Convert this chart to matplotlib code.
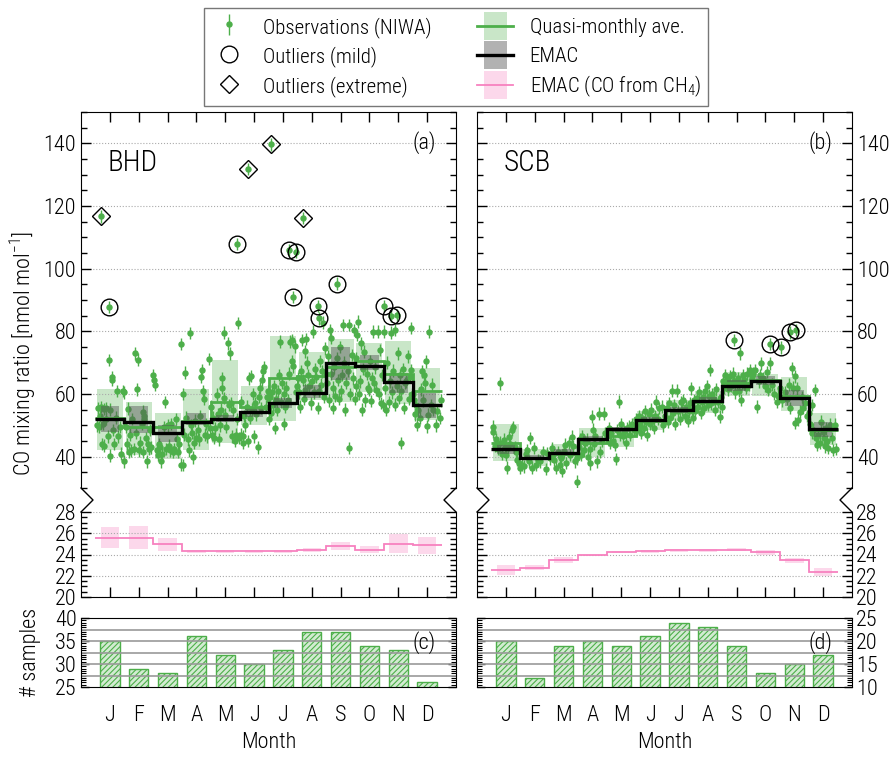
import numpy as np
import matplotlib
matplotlib.use("Agg")
import matplotlib.pyplot as plt
from matplotlib.lines import Line2D
from matplotlib.patches import Rectangle
from matplotlib.legend_handler import HandlerBase
from matplotlib.ticker import MultipleLocator, NullLocator

plt.rcParams['font.family'] = ['Roboto Condensed', 'Roboto', 'DejaVu Sans']
plt.rcParams['font.weight'] = 'light'
plt.rcParams['axes.labelweight'] = 'light'
plt.rcParams['mathtext.fontset'] = 'custom'
plt.rcParams['mathtext.rm'] = 'Roboto Condensed:light'
plt.rcParams['hatch.linewidth'] = 0.8

GREEN = '#4daf4a'
PINK = '#f781bf'

months = ['J', 'F', 'M', 'A', 'M', 'J', 'J', 'A', 'S', 'O', 'N', 'D']
mon = np.arange(1, 13)
obs_err = 2.0

# ---------------- BHD ----------------
bhd_x = [0.55, 0.58, 0.62, 0.66, 0.70, 0.72, 0.75, 0.78, 0.80, 0.85, 0.88, 0.92, 0.96, 1.00, 1.02, 1.06, 1.08, 1.12,
         1.15, 1.20, 1.24, 1.28, 1.35, 1.40, 1.46, 1.48, 1.50,
         1.55, 1.58, 1.62, 1.66, 1.70, 1.74, 1.78, 1.82, 1.87, 1.90, 1.94, 1.96, 2.00, 2.05, 2.10, 2.14, 2.16, 2.18,
         2.20, 2.24, 2.28, 2.32, 2.36, 2.40, 2.44, 2.48,
         2.54, 2.58, 2.62, 2.66, 2.70, 2.74, 2.78, 2.82, 2.86, 2.91, 2.95, 3.00, 3.05, 3.10, 3.12, 3.18, 3.22, 3.28,
         3.32, 3.36, 3.40, 3.45, 3.48,
         3.52, 3.55, 3.58, 3.62, 3.65, 3.70, 3.74, 3.77, 3.80, 3.84, 3.88, 3.92, 3.96, 4.00, 4.04, 4.08, 4.12, 4.16,
         4.18, 4.22, 4.26, 4.30, 4.34, 4.38, 4.43, 4.47,
         4.52, 4.55, 4.58, 4.62, 4.66, 4.70, 4.74, 4.78, 4.82, 4.86, 4.88, 4.90, 4.94, 4.97, 5.00, 5.04, 5.08, 5.12,
         5.16, 5.20, 5.24, 5.28, 5.33, 5.38, 5.42, 5.45, 5.48,
         5.53, 5.56, 5.60, 5.63, 5.66, 5.70, 5.74, 5.78, 5.82, 5.86, 5.89, 5.92, 5.96, 6.00, 6.04, 6.08, 6.12, 6.16,
         6.21, 6.25, 6.28, 6.32, 6.36, 6.40, 6.44, 6.48,
         6.53, 6.56, 6.60, 6.63, 6.67, 6.70, 6.72, 6.76, 6.80, 6.84, 6.88, 6.90, 6.94, 6.98, 7.02, 7.05, 7.08, 7.12,
         7.16, 7.20, 7.25, 7.30, 7.33, 7.36, 7.41, 7.45, 7.48,
         7.52, 7.55, 7.58, 7.62, 7.65, 7.68, 7.72, 7.75, 7.78, 7.80, 7.84, 7.88, 7.92, 7.96, 8.00, 8.05, 8.08, 8.12,
         8.16, 8.20, 8.24, 8.28, 8.32, 8.35, 8.38, 8.42, 8.45, 8.48,
         8.52, 8.55, 8.58, 8.62, 8.65, 8.68, 8.72, 8.75, 8.78, 8.82, 8.86, 8.90, 8.94, 8.98, 9.02, 9.06, 9.09, 9.12,
         9.16, 9.20, 9.24, 9.29, 9.30, 9.34, 9.38, 9.42, 9.46, 9.49,
         9.52, 9.55, 9.58, 9.62, 9.65, 9.68, 9.72, 9.75, 9.78, 9.82, 9.86, 9.90, 9.94, 9.99, 10.02, 10.06, 10.10,
         10.12, 10.16, 10.20, 10.24, 10.28, 10.32, 10.36, 10.41, 10.44, 10.48,
         10.52, 10.55, 10.58, 10.62, 10.66, 10.70, 10.75, 10.78, 10.82, 10.87, 10.90, 10.94, 10.99, 11.02, 11.05,
         11.08, 11.11, 11.15, 11.19, 11.22, 11.28, 11.33, 11.36, 11.40, 11.43, 11.45, 11.48,
         11.52, 11.55, 11.58, 11.62, 11.66, 11.70, 11.75, 11.80, 11.83, 11.86, 11.89, 11.92, 11.96, 12.00, 12.04,
         12.07, 12.12, 12.16, 12.20, 12.30, 12.35, 12.43, 12.47]
bhd_y = [50.0, 55.5, 49.5, 53.0, 55.8, 44.0, 50.5, 55.2, 43.5, 52.0, 55.5, 46.5, 70.9, 40.3, 55.0, 65.5, 64.5, 48.5,
         44.0, 52.5, 61.0, 46.5, 49.5, 41.0, 61.0, 38.5, 60.5,
         49.5, 44.0, 55.3, 41.5, 47.0, 42.0, 52.0, 42.5, 73.0, 47.5, 61.5, 71.0, 42.0, 44.5, 50.5, 54.4, 41.5, 53.0,
         52.0, 46.0, 38.5, 44.0, 42.5, 48.5, 43.0, 66.0,
         64.5, 63.0, 42.0, 40.5, 44.0, 43.0, 38.5, 41.0, 49.5, 57.5, 42.5, 50.0, 43.5, 42.0, 50.5, 41.5, 42.5, 52.0,
         45.5, 41.5, 44.0, 37.5, 76.0,
         37.3, 60.0, 47.0, 66.8, 52.5, 45.5, 42.0, 79.4, 50.0, 47.5, 39.8, 44.5, 51.5, 46.0, 48.5, 45.5, 53.0, 65.5,
         67.7, 61.0, 58.5, 47.0, 50.5, 46.5, 71.1, 49.0,
         56.0, 47.0, 52.5, 46.0, 49.0, 59.8, 53.5, 45.5, 50.0, 55.0, 65.1, 61.9, 58.7, 79.6, 53.4, 49.5, 76.2, 56.5,
         73.0, 57.0, 46.5, 55.0, 45.0, 47.0, 52.0, 82.6, 46.0,
         57.5, 47.0, 44.5, 46.5, 53.0, 50.0, 56.0, 45.0, 65.0, 52.5, 65.8, 55.0, 60.0, 46.5, 57.0, 53.5, 43.0, 59.0,
         61.9, 55.5, 64.5, 67.2, 68.6, 56.0, 59.0, 61.0,
         52.0, 59.2, 54.0, 60.5, 56.5, 62.5, 49.1, 58.5, 55.0, 61.0, 66.0, 76.7, 57.5, 63.5, 60.0, 50.4, 56.0, 62.0,
         58.0, 66.5, 76.7, 70.4, 77.3, 68.8, 75.2, 60.5, 62.5,
         65.0, 60.5, 56.0, 67.2, 77.3, 64.5, 58.5, 73.6, 61.4, 77.5, 70.0, 66.0, 62.5, 57.0, 64.0, 79.9, 60.5, 68.0,
         65.5, 55.5, 61.0, 70.5, 63.0, 67.2, 82.8, 59.0, 74.6, 66.5,
         63.5, 72.0, 58.0, 80.4, 66.5, 77.8, 55.5, 62.0, 68.5, 59.5, 71.5, 64.5, 58.5, 75.0, 61.0, 66.0, 82.0, 70.0,
         55.0, 63.5, 67.5, 42.7, 82.0, 60.0, 72.5, 65.0, 80.4, 58.5,
         62.5, 71.5, 78.9, 83.1, 60.0, 64.0, 76.2, 55.0, 68.0, 73.5, 58.0, 66.5, 62.0, 61.4, 70.5, 57.7, 65.0, 79.9,
         63.5, 68.5, 61.4, 79.9, 60.0, 74.0, 57.1, 66.0, 56.5,
         79.9, 62.0, 55.0, 70.0, 57.5, 64.0, 79.6, 60.5, 67.5, 80.4, 56.6, 62.5, 73.0, 58.7, 66.1, 61.0, 44.4, 68.0,
         55.5, 63.5, 64.0, 72.0, 58.5, 65.5, 67.7, 81.0, 60.0,
         60.0, 58.2, 53.5, 56.6, 50.2, 55.0, 52.5, 61.5, 67.2, 58.0, 66.1, 63.4, 70.4, 49.7, 53.4, 79.9, 56.5, 63.0,
         55.0, 50.0, 54.5, 52.3, 58.0]
bhd_mild_x = [0.96, 5.40, 7.22, 7.44, 7.36, 8.23, 8.26, 8.87, 10.51, 10.76, 10.94]
bhd_mild_y = [87.7, 107.8, 105.9, 105.4, 91.0, 88.1, 84.1, 95.2, 88.1, 84.9, 85.2]
bhd_ext_x = [0.69, 5.78, 6.57, 7.71]
bhd_ext_y = [116.7, 131.8, 139.7, 116.1]

bhd_emac = [52.0, 51.0, 47.4, 51.2, 52.0, 54.4, 57.0, 60.2, 70.0, 68.9, 63.8, 56.6]
bhd_emac_lo = [48.0, 47.4, 44.8, 50.1, 51.2, 52.8, 55.4, 58.6, 64.5, 67.7, 60.2, 52.2]
bhd_emac_hi = [56.2, 56.2, 50.1, 53.8, 53.3, 56.0, 58.6, 62.9, 75.1, 72.3, 66.8, 60.2]
bhd_qm = [52.5, 49.5, 49.5, 51.5, 57.3, 55.8, 65.1, 65.8, 68.5, 70.5, 66.5, 61.0]
bhd_qm_lo = [42.1, 40.5, 39.1, 42.0, 44.4, 50.2, 51.5, 58.1, 57.5, 60.7, 56.8, 51.7]
bhd_qm_hi = [61.5, 57.5, 53.8, 61.5, 70.9, 62.6, 78.6, 73.4, 77.7, 76.4, 76.8, 68.2]
bhd_ch4 = [25.6, 25.6, 25.0, 24.3, 24.3, 24.3, 24.3, 24.4, 24.8, 24.45, 25.0, 24.85]
bhd_ch4_lo = [24.6, 24.5, 24.3, 24.15, 24.15, 24.15, 24.15, 24.2, 24.4, 24.1, 24.1, 24.05]
bhd_ch4_hi = [26.6, 26.7, 25.6, 24.45, 24.45, 24.45, 24.45, 24.6, 25.2, 24.8, 25.9, 25.65]
bhd_n = [35, 29, 28, 36, 32, 30, 33, 37, 37, 34, 33, 26]

# ---------------- SCB ----------------
scb_x = [0.54, 0.57, 0.62, 0.66, 0.72, 0.78, 0.81, 0.86, 0.92, 0.96, 1.00, 1.04, 1.08, 1.12, 1.16, 1.21, 1.25,
         1.30, 1.34, 1.39, 1.44, 1.48,
         1.55, 1.62, 1.70, 1.73, 1.80, 1.83, 1.90, 1.96, 2.05, 2.12, 2.20, 2.30, 2.38, 2.43,
         2.52, 2.56, 2.60, 2.64, 2.68, 2.74, 2.80, 2.87, 2.92, 2.96, 3.00, 3.06, 3.10, 3.18, 3.22, 3.29, 3.34, 3.40,
         3.45, 3.48,
         3.52, 3.56, 3.60, 3.64, 3.70, 3.75, 3.81, 3.86, 3.90, 3.93, 3.99, 4.02, 4.06, 4.10, 4.16, 4.22, 4.28, 4.34,
         4.39, 4.45,
         4.52, 4.56, 4.60, 4.66, 4.72, 4.79, 4.82, 4.86, 4.91, 4.96, 5.00, 5.05, 5.10, 5.16, 5.20, 5.26, 5.32, 5.38,
         5.45,
         5.52, 5.56, 5.60, 5.64, 5.68, 5.72, 5.78, 5.82, 5.86, 5.90, 5.95, 6.00, 6.04, 6.08, 6.12, 6.16, 6.20, 6.26,
         6.32, 6.41, 6.46,
         6.52, 6.57, 6.62, 6.66, 6.70, 6.75, 6.80, 6.84, 6.88, 6.94, 6.98, 7.02, 7.06, 7.10, 7.15, 7.20, 7.25, 7.30,
         7.34, 7.38, 7.41, 7.44, 7.48,
         7.52, 7.56, 7.61, 7.66, 7.70, 7.75, 7.80, 7.84, 7.88, 7.92, 7.96, 8.00, 8.04, 8.07, 8.12, 8.16, 8.20, 8.25,
         8.30, 8.35, 8.42, 8.46, 8.49,
         8.52, 8.56, 8.60, 8.65, 8.70, 8.74, 8.77, 8.82, 8.86, 8.90, 8.94, 9.00, 9.04, 9.08, 9.12, 9.15, 9.19, 9.23,
         9.27, 9.32, 9.37, 9.42, 9.46,
         9.52, 9.58, 9.64, 9.70, 9.76, 9.82, 9.86, 9.92, 9.98, 10.04, 10.10, 10.16, 10.22, 10.30, 10.39, 10.45,
         10.52, 10.58, 10.66, 10.74, 10.80, 10.86, 10.91, 10.96, 11.02, 11.04, 11.08, 11.14, 11.19, 11.26, 11.31,
         11.38, 11.45,
         11.52, 11.56, 11.60, 11.63, 11.66, 11.71, 11.74, 11.77, 11.82, 11.88, 11.94, 11.98, 12.02, 12.06, 12.10,
         12.14, 12.18, 12.23, 12.29, 12.35, 12.41, 12.46]
scb_y = [49.6, 48.0, 43.5, 45.5, 42.5, 44.5, 63.4, 41.0, 45.4, 43.0, 40.5, 36.5, 42.7, 46.2, 44.0, 48.6, 49.5,
         43.0, 41.5, 39.0, 38.0, 36.4,
         37.5, 36.9, 41.0, 42.2, 38.5, 45.9, 36.5, 42.7, 37.5, 39.0, 38.5, 41.5, 36.0, 41.1,
         39.5, 41.0, 42.7, 40.6, 38.9, 36.5, 41.5, 37.4, 39.5, 35.5, 41.7, 43.8, 38.0, 44.3, 40.5, 46.4, 43.3, 38.5,
         32.0, 39.5,
         43.0, 45.5, 40.5, 46.5, 42.0, 44.5, 45.4, 40.0, 42.5, 37.9, 52.8, 48.6, 44.0, 46.5, 38.5, 53.7, 41.5, 45.0,
         53.7, 47.5,
         46.5, 49.0, 44.5, 47.5, 45.0, 43.8, 39.2, 48.5, 57.6, 47.0, 50.5, 46.5, 48.0, 44.5, 49.0, 49.6, 47.0, 50.5,
         48.5,
         52.0, 48.5, 53.0, 50.0, 47.5, 52.5, 49.0, 54.5, 51.0, 47.0, 53.5, 50.5, 55.0, 51.5, 49.1, 53.0, 57.6, 52.0,
         55.5, 56.0, 50.0,
         53.0, 55.5, 51.0, 57.0, 52.5, 61.1, 54.0, 56.5, 50.5, 61.1, 54.5, 52.0, 57.5, 55.0, 58.1, 53.0, 56.0, 51.5,
         54.5, 57.0, 61.8, 55.0, 52.5,
         58.0, 54.5, 58.6, 56.0, 60.5, 54.0, 57.5, 59.0, 55.5, 61.0, 62.4, 56.5, 59.5, 67.7, 57.0, 60.0, 58.5, 55.0,
         61.5, 57.5, 52.8, 59.0, 56.0,
         64.0, 62.0, 66.0, 64.5, 61.5, 63.5, 65.6, 62.5, 66.5, 64.0, 60.5, 63.5, 65.0, 61.0, 73.0, 58.1, 63.4, 66.1,
         64.5, 62.0, 66.5, 63.0, 67.7,
         65.5, 66.5, 67.7, 56.0, 64.0, 66.0, 69.8, 65.0, 62.5, 67.0, 61.3, 69.8, 63.0, 60.0, 57.6, 59.5,
         62.0, 58.0, 60.5, 58.5, 63.0, 55.5, 68.2, 62.0, 50.7, 65.6, 61.8, 51.7, 54.4, 59.0, 55.5, 57.0, 53.0,
         54.0, 50.5, 56.5, 47.5, 48.6, 61.3, 45.9, 43.8, 47.0, 44.5, 51.2, 48.0, 46.0, 43.3, 49.0, 45.0, 42.7, 50.2,
         45.9, 42.2, 50.2, 42.5]
scb_mild_x = [8.92, 10.16, 10.54, 10.85, 11.05]
scb_mild_y = [77.2, 75.9, 74.9, 79.7, 80.4]
scb_ext_x = []
scb_ext_y = []

scb_emac = [42.4, 39.7, 41.3, 45.5, 48.7, 51.7, 54.9, 57.9, 62.7, 64.3, 58.8, 48.7]
scb_emac_lo = [40.8, 38.8, 40.3, 44.5, 47.8, 50.8, 53.9, 56.9, 61.0, 62.8, 56.3, 46.3]
scb_emac_hi = [44.0, 40.6, 42.3, 46.5, 49.6, 52.6, 55.9, 58.9, 64.4, 65.8, 61.3, 51.1]
scb_qm = [44.4, 39.5, 41.0, 44.5, 46.5, 51.5, 55.0, 57.5, 63.5, 64.5, 59.5, 48.5]
scb_qm_lo = [38.5, 37.0, 38.0, 40.0, 43.0, 48.5, 51.5, 54.0, 59.5, 59.5, 54.5, 43.8]
scb_qm_hi = [50.4, 42.5, 44.0, 49.0, 49.5, 54.5, 58.0, 61.0, 67.0, 66.5, 65.5, 54.0]
scb_ch4 = [22.55, 22.75, 23.5, 23.95, 24.2, 24.3, 24.4, 24.4, 24.45, 24.2, 23.45, 22.35]
scb_ch4_lo = [22.1, 22.5, 23.2, 23.9, 24.1, 24.15, 24.28, 24.28, 24.33, 23.95, 23.2, 21.95]
scb_ch4_hi = [23.0, 23.0, 23.8, 24.0, 24.3, 24.45, 24.52, 24.52, 24.57, 24.45, 23.7, 22.75]
scb_n = [20, 12, 19, 20, 19, 21, 24, 23, 19, 13, 15, 17]


class BoxLineHandler(HandlerBase):
    # narrow shaded box filling the row height, with a line across it
    def __init__(self, face, alpha, line_color, lw):
        super().__init__()
        self.face, self.alpha, self.lc, self.lw = face, alpha, line_color, lw

    def create_artists(self, legend, orig_handle, xdescent, ydescent, width, height, fontsize, trans):
        bw = width * 0.66
        ext = height * 0.16
        r = Rectangle((-xdescent + (width - bw) / 2, -ydescent - ext), bw, height + 2 * ext,
                      facecolor=self.face, alpha=self.alpha, edgecolor='none', transform=trans)
        ln = Line2D([-xdescent, -xdescent + width], [-ydescent + height / 2] * 2,
                    color=self.lc, lw=self.lw, transform=trans)
        return [r, ln]


fig = plt.figure(figsize=(8.93, 7.57), dpi=100)
W, H = 893.0, 757.0


def fx(px):
    return px / W


def fy(py_top, py_bot):
    return 1 - py_bot / H, (py_bot - py_top) / H


cols = [(81, 456), (477, 852)]
stations = [
    dict(name='BHD', tag=('(a)', '(c)'), x=bhd_x, y=bhd_y, mx=bhd_mild_x, my=bhd_mild_y, ex=bhd_ext_x, ey=bhd_ext_y,
         emac=bhd_emac, elo=bhd_emac_lo, ehi=bhd_emac_hi, qm=bhd_qm, qlo=bhd_qm_lo, qhi=bhd_qm_hi,
         ch4=bhd_ch4, clo=bhd_ch4_lo, chi=bhd_ch4_hi, n=bhd_n, nlim=(25, 40)),
    dict(name='SCB', tag=('(b)', '(d)'), x=scb_x, y=scb_y, mx=scb_mild_x, my=scb_mild_y, ex=scb_ext_x, ey=scb_ext_y,
         emac=scb_emac, elo=scb_emac_lo, ehi=scb_emac_hi, qm=scb_qm, qlo=scb_qm_lo, qhi=scb_qm_hi,
         ch4=scb_ch4, clo=scb_ch4_lo, chi=scb_ch4_hi, n=scb_n, nlim=(10, 25)),
]

edges = np.arange(0.5, 13.0, 1.0)
handles = {}
tick_fs = 16

for ci, ((x0, x1), st) in enumerate(zip(cols, stations)):
    left = ci == 0
    b, h = fy(112, 488)
    ax = fig.add_axes([fx(x0), b, fx(x1 - x0), h])
    b, h = fy(512, 597)
    axl = fig.add_axes([fx(x0), b, fx(x1 - x0), h])
    b, h = fy(618, 687)
    axn = fig.add_axes([fx(x0), b, fx(x1 - x0), h])

    # upper panel
    for m, lo, hi in zip(mon, st['qlo'], st['qhi']):
        ax.add_patch(Rectangle((m - 0.45, lo), 0.9, hi - lo, facecolor=GREEN, alpha=0.3, lw=0, zorder=1))
    allx = list(st['x']) + list(st['mx']) + list(st['ex'])
    ally = list(st['y']) + list(st['my']) + list(st['ey'])
    eb = ax.errorbar(allx, ally, yerr=obs_err, fmt='o', ms=3.6, color=GREEN, ecolor=GREEN, elinewidth=1.0,
                     capsize=0, zorder=2)
    for m, lo, hi in zip(mon, st['elo'], st['ehi']):
        ax.add_patch(Rectangle((m - 0.32, lo), 0.64, hi - lo, facecolor='#555555', alpha=0.45, lw=0, zorder=3))
    ax.stairs(st['qm'], edges, baseline=None, color=GREEN, lw=2.0, zorder=4)
    ax.stairs(st['emac'], edges, baseline=None, color='black', lw=2.4, zorder=5)
    mild, = ax.plot(st['mx'], st['my'], 'o', ms=12, mfc='none', mec='black', mew=1.0, zorder=6)
    ext, = ax.plot(st['ex'], st['ey'], 'D', ms=9.5, mfc='none', mec='black', mew=1.0, zorder=6)
    handles['obs'], handles['mild'], handles['ext'] = eb, mild, ext

    ax.set_xlim(0, 13)
    ax.set_ylim(30, 150)
    ax.set_xticks(mon)
    ax.xaxis.set_minor_locator(NullLocator())
    ax.yaxis.set_major_locator(MultipleLocator(20))
    ax.yaxis.set_minor_locator(MultipleLocator(5))
    ax.yaxis.grid(True, which='major', ls=':', color='#aaaaaa', lw=0.8)
    ax.spines['bottom'].set_visible(False)
    ax.tick_params(axis='x', which='both', direction='in', top=True, bottom=False, labelbottom=False,
                   length=7.5, width=1)
    ax.tick_params(axis='y', which='both', direction='in', left=True, right=True, labelleft=left,
                   labelright=not left, labelsize=tick_fs)
    ax.tick_params(axis='y', which='major', length=7.5, width=1)
    ax.tick_params(axis='y', which='minor', length=4.5, width=1)
    ax.text(0.072, 0.864, st['name'], transform=ax.transAxes, fontsize=21, va='center', ha='left')
    ax.text(0.947, 0.918, st['tag'][0], transform=ax.transAxes, fontsize=16, va='center', ha='right')

    # lower panel (CO from CH4)
    for m, lo, hi in zip(mon, st['clo'], st['chi']):
        axl.add_patch(Rectangle((m - 0.32, lo), 0.64, hi - lo, facecolor=PINK, alpha=0.3, lw=0, zorder=1))
    axl.stairs(st['ch4'], edges, baseline=None, color=PINK, lw=1.3, zorder=3)
    axl.set_xlim(0, 13)
    axl.set_ylim(20, 28)
    axl.set_xticks(mon)
    axl.xaxis.set_minor_locator(NullLocator())
    axl.yaxis.set_major_locator(MultipleLocator(2))
    axl.yaxis.set_minor_locator(MultipleLocator(0.5))
    axl.yaxis.grid(True, which='major', ls=':', color='#aaaaaa', lw=0.8)
    axl.spines['top'].set_visible(False)
    axl.tick_params(axis='x', which='both', direction='in', top=False, bottom=True, labelbottom=False,
                    length=7.5, width=1)
    axl.tick_params(axis='y', which='both', direction='in', left=True, right=True, labelleft=left,
                    labelright=not left, labelsize=tick_fs, pad=3)
    axl.tick_params(axis='y', which='major', length=7.5, width=1)
    axl.tick_params(axis='y', which='minor', length=4, width=1)

    # zigzag break marks between the two panels
    for sx, d in ((x0, 1), (x1, -1)):
        fig.add_artist(Line2D([fx(sx), fx(sx + d * 12), fx(sx)], [1 - 488 / H, 1 - 500 / H, 1 - 512 / H],
                              color='black', lw=1.0, transform=fig.transFigure))

    # samples panel
    axn.bar(mon, st['n'], width=0.67, facecolor=(0.30, 0.69, 0.29, 0.25), edgecolor=GREEN, hatch='//////',
            lw=1.0, zorder=1)
    lo_n, hi_n = st['nlim']
    axn.set_ylim(lo_n, hi_n)
    axn.set_xlim(0, 13)
    axn.hlines(np.arange(lo_n + 2.5, hi_n, 2.5), 0, 13, color='#999999', lw=1.2, zorder=2)
    axn.set_xticks(mon)
    axn.set_xticklabels(months)
    axn.yaxis.set_major_locator(MultipleLocator(5))
    axn.yaxis.set_minor_locator(MultipleLocator(0.5))
    axn.tick_params(axis='x', which='both', length=0, pad=13, labelsize=tick_fs)
    axn.tick_params(axis='y', which='both', direction='in', left=True, right=True, labelleft=left,
                    labelright=not left, labelsize=tick_fs, pad=3)
    axn.tick_params(axis='y', which='major', length=6, width=1)
    axn.tick_params(axis='y', which='minor', length=3.5, width=0.8)
    axn.set_xlabel('Month', fontsize=16, labelpad=4)
    axn.text(0.947, 0.65, st['tag'][1], transform=axn.transAxes, fontsize=16, va='center', ha='right')
    if left:
        axn.set_ylabel('# samples', fontsize=16, labelpad=10)

fig.text(fx(24), 1 - 354 / H, 'CO mixing ratio [nmol mol$^{-1}$]', rotation=90, fontsize=16,
         ha='center', va='center')

h_qm = Rectangle((0, 0), 1, 1)
h_emac = Rectangle((0, 0), 1, 1)
h_ch4 = Rectangle((0, 0), 1, 1)
leg = fig.legend([handles['obs'], handles['mild'], handles['ext'], h_qm, h_emac, h_ch4],
                 ['Observations (NIWA)', 'Outliers (mild)', 'Outliers (extreme)',
                  'Quasi-monthly ave.', 'EMAC', 'EMAC (CO from CH$_4$)'],
                 ncol=2, loc='upper center', bbox_to_anchor=(fx(456), 1 - 8 / H), borderaxespad=0,
                 fontsize=15, frameon=True, fancybox=False, edgecolor='#777777', framealpha=1,
                 handlelength=1.7, handleheight=1.2, labelspacing=0.35, columnspacing=2.2,
                 borderpad=0.35, handletextpad=0.8,
                 handler_map={h_qm: BoxLineHandler(GREEN, 0.3, GREEN, 2.0),
                              h_emac: BoxLineHandler('#555555', 0.45, 'black', 2.4),
                              h_ch4: BoxLineHandler(PINK, 0.3, PINK, 1.3)})
leg.get_frame().set_linewidth(1.0)

fig.savefig('out.png', dpi=100)
